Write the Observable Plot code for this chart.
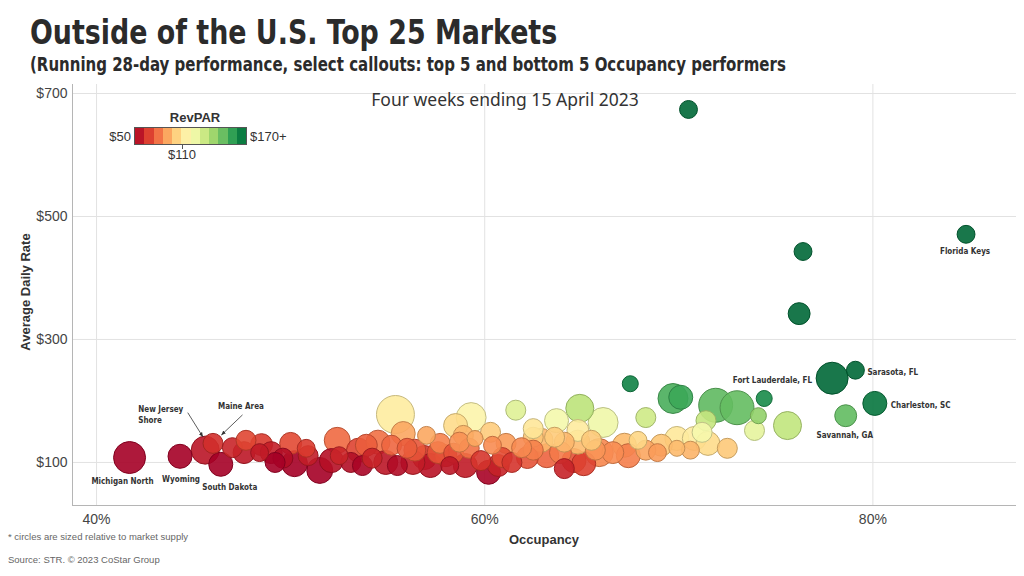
<!DOCTYPE html>
<html><head><meta charset="utf-8">
<script src="https://cdn.jsdelivr.net/npm/d3@7"></script>
<script src="https://cdn.jsdelivr.net/npm/@observablehq/plot@0.6"></script>
<style>
body{margin:0;width:1024px;height:576px;position:relative;overflow:hidden;background:#fff;font-family:'Liberation Sans',Arial,sans-serif;color:#333}
.abs{position:absolute;white-space:nowrap}
#title{left:30px;top:16px;font:bold 33px/33px 'DejaVu Sans Condensed',sans-serif;color:#2b2b2b;transform-origin:0 0;transform:scaleX(0.905)}
#sub{left:30px;top:55px;font:bold 19px/19px 'DejaVu Sans Condensed',sans-serif;color:#2b2b2b;transform-origin:0 0;transform:scaleX(0.877)}
#chart{left:0;top:82px}
#period{left:0;width:1010px;text-align:center;top:89px;font:17.5px/20px 'Noto Sans',sans-serif;color:#333}
#ylab{left:25px;top:292px;transform:translate(-50%,-50%) rotate(-90deg);font:bold 13px 'Liberation Sans',sans-serif;color:#333}
#xlab{left:544px;top:539px;transform:translate(-50%,-50%);font:bold 13px 'Liberation Sans',sans-serif;color:#333}
.foot{left:8px;font:9.5px 'Liberation Sans',sans-serif;color:#666}
#legtitle{left:195px;top:117px;transform:translate(-50%,-50%);font:bold 13px 'Liberation Sans',sans-serif;color:#333}
#legbar{left:134px;top:127px;width:113px;height:18px;display:flex;border:1px solid #555;box-sizing:border-box}
.leg{font:13px 'Liberation Sans',sans-serif;color:#333}
</style></head>
<body>
<div id="title" class="abs">Outside of the U.S. Top 25 Markets</div>
<div id="sub" class="abs">(Running 28-day performance, select callouts: top 5 and bottom 5 Occupancy performers</div>
<div id="chart" class="abs"></div>
<div id="period" class="abs">Four weeks ending 15 April 2023</div>
<div id="ylab" class="abs">Average Daily Rate</div>
<div id="xlab" class="abs">Occupancy</div>
<div class="abs foot" style="top:531px">* circles are sized relative to market supply</div>
<div class="abs foot" style="top:554px">Source: STR. © 2023 CoStar Group</div>
<div id="legtitle" class="abs">RevPAR</div>
<div id="legbar" class="abs"></div>
<div class="abs leg" style="left:131px;top:136px;transform:translate(-100%,-50%)">$50</div>
<div class="abs leg" style="left:250px;top:136px;transform:translate(0,-50%)">$170+</div>
<div class="abs leg" style="left:182px;top:154px;transform:translate(-50%,-50%)">$110</div>
<div class="abs" style="left:182px;top:145px;width:1px;height:4px;background:#555"></div>
<script>
// ---- data ----
const markets = ["Michigan North","Wyoming","New Jersey Shore","Maine Area","South Dakota",
  "Florida Keys","Sarasota, FL","Fort Lauderdale, FL","Charleston, SC","Savannah, GA"];
// occupancy (%), average daily rate ($), supply (rooms); first 10 are the callout markets
const occupancy = [41.7,44.3,45.6,46.0,46.4, 84.8,79.1,77.9,80.1,78.6,
  70.5,76.4,76.2,74.4,67.5,
  47.0,47.6,48.5,48.4,49.0,50.0,50.2,49.6,50.9,51.5,52.4,52.5,53.1,53.5,53.7,
  55.4,55.8,54.5,55.2,54.9,55.5,56.0,57.0,56.9,57.2,57.7,58.4,58.2,59.3,58.5,58.9,59.5,60.3,60.4,59.2,59.0,59.8,60.2,61.1,60.9,61.4,61.6,62.5,62.5,62.5,56.4,58.0,
  62.2,63.2,63.9,64.6,65.1,64.1,63.7,64.9,66.1,64.8,64.8,64.1,63.6,65.7,65.9,67.2,67.9,67.4,68.3,68.9,68.3,69.7,70.1,69.9,69.9,70.8,71.5,71.4,71.2,71.9,73.0,72.5,73.9,74.1,75.6,
  47.7,49.2,50.8,52.1,53.9,54.2,56.3,57.6,58.7,60.7,61.9,62.9,65.5,66.6,69.1,70.6];
const adr = [108,110,120,131,97, 471,250,237,196,176,
  674,443,342,204,228,
  124,116,129,116,116,131,98,107,111,87,136,111,100,120,95,
  178,147,133,128,100,95,123,144,108,95,131,115,95,173,160,144,139,149,128,123,95,103,84,131,108,100,185,141,155,120,120,111,
  108,111,116,103,98,90,168,188,165,152,133,133,141,120,116,128,136,111,120,116,173,204,206,139,123,139,131,168,149,193,189,123,152,176,160,
  136,100,123,103,128,107,100,116,133,95,124,136,136,116,128,120];
const supply = [16000,9000,12250,6250,9000, 5000,5000,16000,9000,7500,
  5000,5000,7500,4000,4000,
  6250,7500,7500,5000,7500,7500,10500,6250,6250,10500,10500,5000,6250,9000,6250,
  22500,9000,9000,6250,9000,6250,6250,5000,9000,9000,6250,6250,5000,14000,9000,6250,4000,6250,5000,6250,9000,6250,9000,6250,6250,6250,6250,6250,6250,6250,7500,7500,
  7500,9000,7500,9000,9000,6250,9000,12250,14000,7500,9000,6250,6250,6250,12250,9000,5000,9000,6250,5000,6250,14000,9000,9000,4000,9000,9000,6250,6250,18000,18000,6250,6250,4000,12250,
  6250,6250,5000,9000,7500,6250,9000,7500,6250,7500,6250,9000,6250,7500,7500,5000];

const data = occupancy.map((o, i) => ({
  name: markets[i] || "", occ: o, adr: adr[i], supply: supply[i], revpar: o / 100 * adr[i]
}));
const callouts = data.filter(d => d.name);

// label placement (pixel offsets from each callout circle)
const place = {
  "Michigan North": {dx:-7, dy:23, a:"middle"},
  "Wyoming": {dx:1, dy:22, a:"middle"},
  "South Dakota": {dx:9, dy:22, a:"middle"},
  "New Jersey Shore": {dx:-67, dy:-36, a:"start", t:"New Jersey\nShore"},
  "Maine Area": {dx:5, dy:-38, a:"start"},
  "Florida Keys": {dx:-1, dy:16, a:"middle"},
  "Sarasota, FL": {dx:12, dy:1, a:"start"},
  "Fort Lauderdale, FL": {dx:-20, dy:1, a:"end"},
  "Charleston, SC": {dx:16, dy:1, a:"start"},
  "Savannah, GA": {dx:-1, dy:19, a:"middle"}
};
const arrows = {
  "New Jersey Shore": [-17,-37,-2,-13],
  "Maine Area": [30,-28,9,-8]
};

const cLo = 50, cHi = 160;
const interp = d3.interpolateRdYlGn;
const tOf = v => Math.max(0, Math.min(1, (v - cLo) / (cHi - cLo)));
const darker = v => d3.color(interp(tOf(v))).darker(0.7).formatHex();

const xDomain = [38.76, 87.4], yDomain = [30, 714.6];
const textFont = "'DejaVu Sans Condensed',sans-serif";

const chart = Plot.plot({
  width: 1024, height: 494,
  marginLeft: 72, marginRight: 8, marginTop: 2, marginBottom: 71,
  style: {fontFamily: "'Liberation Sans',Arial,sans-serif", fontSize: "14px", color: "#444", background: "transparent"},
  x: {domain: xDomain},
  y: {domain: yDomain},
  r: {type: "sqrt", domain: [0, 25000], range: [0, 20]},
  color: {type: "linear", scheme: "RdYlGn", domain: [cLo, cHi], clamp: true},
  marks: [
    Plot.gridY([100, 300, 500, 700], {stroke: "#e2e2e2", strokeOpacity: 1}),
    Plot.gridX([40, 60, 80], {stroke: "#e2e2e2", strokeOpacity: 1}),
    Plot.ruleX([xDomain[0]], {stroke: "#b5b5b5"}),
    Plot.ruleY([yDomain[0]], {stroke: "#b5b5b5"}),
    Plot.axisY({ticks: [100, 300, 500, 700], tickSize: 0, tickPadding: 5, tickFormat: d => "$" + d, label: null}),
    Plot.axisX({ticks: [40, 60, 80], tickSize: 0, tickPadding: 9, tickFormat: d => d + "%", label: null}),
    Plot.dot(data, {x: "occ", y: "adr", r: "supply", fill: "revpar", fillOpacity: 0.9,
      stroke: d => darker(d.revpar), strokeWidth: 1}),
    ...callouts.map(d => Plot.text([d], {x: "occ", y: "adr", text: p => place[p.name].t || p.name,
      dx: place[d.name].dx, dy: place[d.name].dy, textAnchor: place[d.name].a,
      fontSize: 8, fontWeight: "bold", fill: "#333", fontFamily: textFont, lineHeight: 1.4}))
  ]
});
document.getElementById("chart").appendChild(chart);

// callout arrows, positioned with the chart's own scales
const sx = chart.scale("x"), sy = chart.scale("y");
const px = v => sx.range[0] + (v - sx.domain[0]) / (sx.domain[1] - sx.domain[0]) * (sx.range[1] - sx.range[0]);
const py = v => sy.range[0] + (v - sy.domain[0]) / (sy.domain[1] - sy.domain[0]) * (sy.range[1] - sy.range[0]);
const svg = d3.select(chart.tagName.toLowerCase() === "svg" ? chart : chart.querySelector("svg"));
svg.append("defs").append("marker").attr("id", "ah").attr("viewBox", "0 0 10 10")
  .attr("refX", 9).attr("refY", 5).attr("markerWidth", 6).attr("markerHeight", 6).attr("orient", "auto")
  .append("path").attr("d", "M0,1L10,5L0,9z").attr("fill", "#333");
for (const d of callouts) {
  const a = arrows[d.name]; if (!a) continue;
  const cx = px(d.occ), cy = py(d.adr);
  svg.append("line").attr("x1", cx + a[0]).attr("y1", cy + a[1]).attr("x2", cx + a[2]).attr("y2", cy + a[3])
    .attr("stroke", "#333").attr("stroke-width", 0.8).attr("marker-end", "url(#ah)");
}

// legend swatches
const bar = document.getElementById("legbar");
for (let i = 0; i < 12; i++) {
  const s = document.createElement("div");
  s.style.flex = "1"; s.style.background = d3.interpolateRdYlGn((i + 0.5) / 12);
  bar.appendChild(s);
}
</script>
</body></html>
